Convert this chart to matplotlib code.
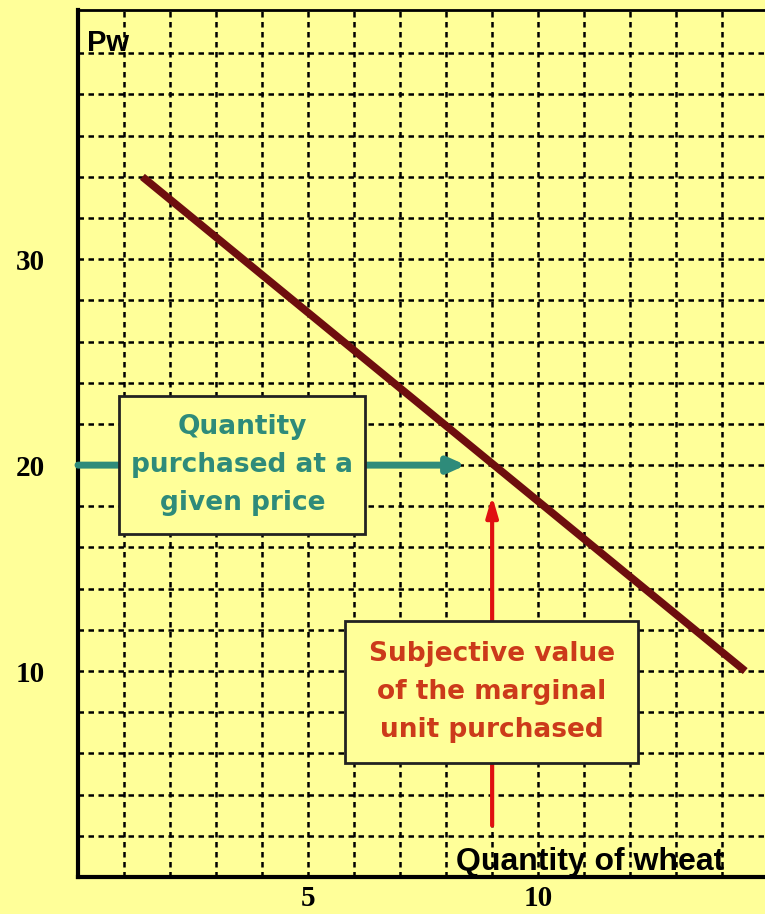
import matplotlib.pyplot as plt
from matplotlib.patches import Rectangle

# demand curve end points (quantity, price)
demand_q = [1.4, 14.5]
demand_p = [34.0, 10.0]

x_ticks = [5, 10]
y_ticks = [10, 20, 30]

price_given = 20
marginal_q = 9

teal_label = "Quantity\npurchased at a\ngiven price"
red_label = "Subjective value\nof the marginal\nunit purchased"

BG = "#FFFF99"
TEAL = "#2E8B7A"
RED_TEXT = "#CC3A1A"
RED_ARROW = "#E01010"
MAROON = "#6E0E0E"


def main():
    fig = plt.figure(figsize=(7.65, 9.14), dpi=100, facecolor=BG)
    ax = fig.add_axes([78 / 765, 37 / 914, 687 / 765, 867 / 914])
    ax.set_facecolor(BG)
    ax.set_xlim(0, 14.93)
    ax.set_ylim(0, 42.1)

    # dashed grid: 1 unit across, 2 units up
    for gx in range(1, 15):
        ax.axvline(gx, color="black", lw=1.8, ls=(0, (2.2, 1.8)), zorder=1)
    for gy in range(2, 42, 2):
        ax.axhline(gy, color="black", lw=1.8, ls=(0, (2.2, 1.8)), zorder=1)

    for side in ["left", "bottom"]:
        ax.spines[side].set_linewidth(3)
    ax.spines["top"].set_linewidth(2)
    ax.spines["right"].set_visible(False)

    ax.set_xticks(x_ticks)
    ax.set_yticks(y_ticks)
    ax.tick_params(length=0)
    ax.tick_params(axis="y", pad=24)
    ax.tick_params(axis="x", pad=6)
    for lab in ax.get_xticklabels() + ax.get_yticklabels():
        lab.set_fontfamily("Liberation Serif")
        lab.set_fontweight("bold")
        lab.set_fontsize(21)

    ax.plot(demand_q, demand_p, color=MAROON, lw=5.5, solid_capstyle="butt", zorder=3)

    # teal arrow at the given price
    ax.annotate("", xy=(8.43, price_given), xytext=(0, price_given),
                arrowprops=dict(arrowstyle="-|>,head_length=1.0,head_width=0.45",
                                color=TEAL, lw=5, shrinkA=0, shrinkB=0), zorder=4)
    # red arrow up to the curve
    ax.annotate("", xy=(marginal_q, 18.5), xytext=(marginal_q, 2.5),
                arrowprops=dict(arrowstyle="-|>,head_length=1.2,head_width=0.35",
                                color=RED_ARROW, lw=3, shrinkA=0, shrinkB=0), zorder=4)

    ax.add_patch(Rectangle((0.89, 16.65), 5.35, 6.7, facecolor=BG,
                           edgecolor="#222222", lw=2, zorder=5))
    ax.text(3.57, 20.0, teal_label, ha="center", va="center", color=TEAL,
            fontsize=19, fontweight="bold", family="DejaVu Sans",
            linespacing=1.6, zorder=6)

    ax.add_patch(Rectangle((5.8, 5.53), 6.37, 6.9, facecolor=BG,
                           edgecolor="#222222", lw=2, zorder=5))
    ax.text(8.99, 9.0, red_label, ha="center", va="center", color=RED_TEXT,
            fontsize=19, fontweight="bold", family="DejaVu Sans",
            linespacing=1.6, zorder=6)

    ax.text(0.2, 41.2, "Pw", ha="left", va="top", fontsize=21,
            fontweight="bold", family="Liberation Sans", zorder=6)
    ax.text(8.22, 0.35, "Quantity of wheat", ha="left", va="baseline",
            fontsize=23, fontweight="bold", family="Liberation Sans", zorder=6)

    fig.savefig("out.png", dpi=100, facecolor=BG)


if __name__ == '__main__':
    main()
